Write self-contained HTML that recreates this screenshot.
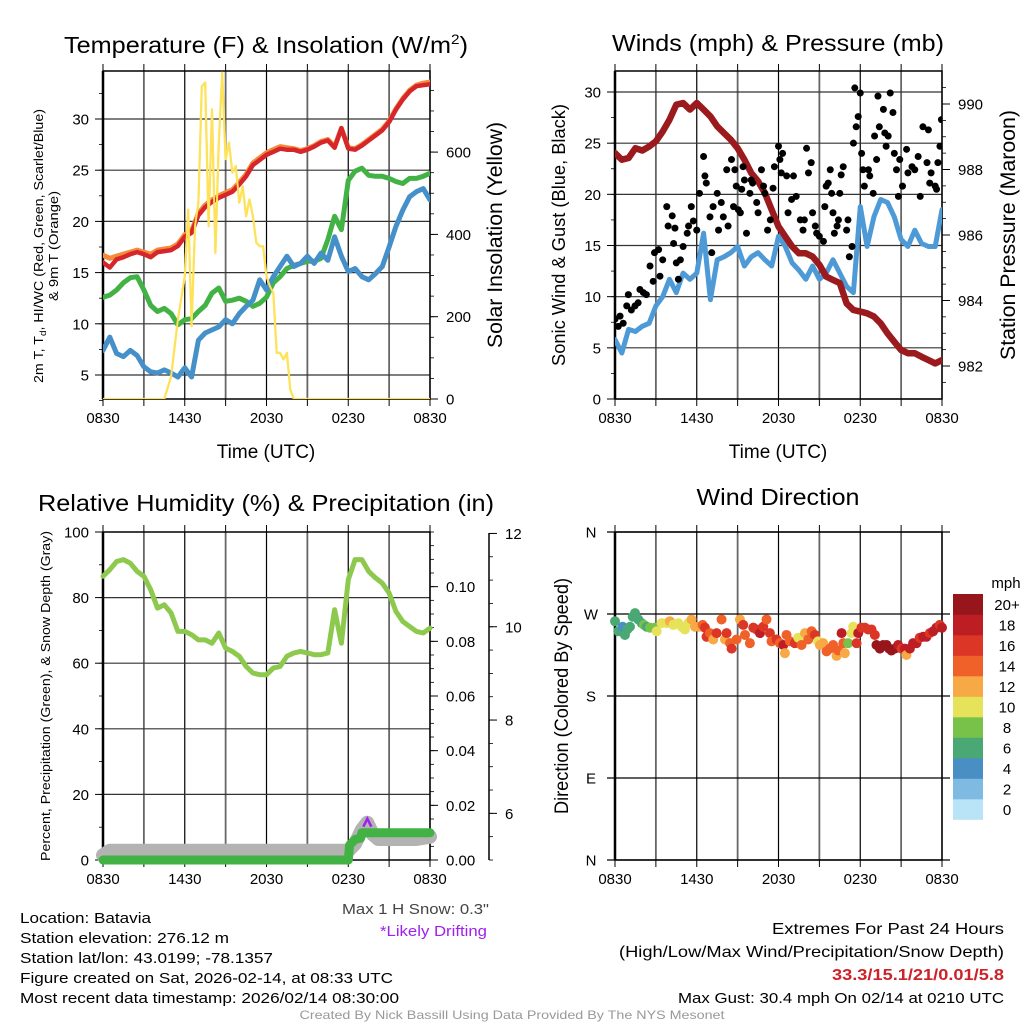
<!DOCTYPE html>
<html><head><meta charset="utf-8">
<style>
html,body{margin:0;padding:0;background:#fff;}
svg{display:block;font-family:"Liberation Sans",Arial,sans-serif;}
</style></head>
<body>
<svg id="fig" xmlns="http://www.w3.org/2000/svg" width="1024" height="1024" viewBox="0 0 1024 1024">
<rect x="0" y="0" width="1024" height="1024" fill="#fff"/>
<!-- titles -->
<text x="266" y="53" font-size="23" text-anchor="middle" textLength="404" lengthAdjust="spacingAndGlyphs">Temperature (F) &amp; Insolation (W/m<tspan dy="-9" font-size="14">2</tspan><tspan dy="9">)</tspan></text>
<text x="778" y="51" font-size="23" text-anchor="middle" textLength="332" lengthAdjust="spacingAndGlyphs">Winds (mph) &amp; Pressure (mb)</text>
<text x="38" y="511" font-size="23" textLength="456" lengthAdjust="spacingAndGlyphs">Relative Humidity (%) &amp; Precipitation (in)</text>
<text x="778" y="505" font-size="23" text-anchor="middle" textLength="163" lengthAdjust="spacingAndGlyphs">Wind Direction</text>
<!-- axis titles -->
<text transform="translate(43,246) rotate(-90)" font-size="13" text-anchor="middle" textLength="274" lengthAdjust="spacingAndGlyphs">2m T, T<tspan dy="3" font-size="9">d</tspan><tspan dy="-3">, HI/WC (Red, Green, Scarlet/Blue)</tspan></text>
<text transform="translate(58,246) rotate(-90)" font-size="13" text-anchor="middle" textLength="110" lengthAdjust="spacingAndGlyphs">&amp; 9m T (Orange)</text>
<text transform="translate(502,235) rotate(-90)" font-size="21" text-anchor="middle" textLength="226" lengthAdjust="spacingAndGlyphs">Solar Insolation (Yellow)</text>
<text transform="translate(565,235) rotate(-90)" font-size="18" text-anchor="middle" textLength="262" lengthAdjust="spacingAndGlyphs">Sonic Wind &amp; Gust (Blue, Black)</text>
<text transform="translate(1015,235) rotate(-90)" font-size="21" text-anchor="middle" textLength="250" lengthAdjust="spacingAndGlyphs">Station Pressure (Maroon)</text>
<text transform="translate(50,696) rotate(-90)" font-size="13" text-anchor="middle" textLength="330" lengthAdjust="spacingAndGlyphs">Percent, Precipitation (Green), &amp; Snow Depth (Gray)</text>
<text transform="translate(568,696) rotate(-90)" font-size="19" text-anchor="middle" textLength="236" lengthAdjust="spacingAndGlyphs">Direction (Colored By Speed)</text>
<text x="266" y="458" font-size="19" text-anchor="middle">Time (UTC)</text>
<text x="778" y="458" font-size="19" text-anchor="middle">Time (UTC)</text>
<!-- footer text -->
<g font-size="15">
<text x="20" y="923" textLength="131" lengthAdjust="spacingAndGlyphs">Location: Batavia</text>
<text x="20" y="943" textLength="209" lengthAdjust="spacingAndGlyphs">Station elevation: 276.12 m</text>
<text x="20" y="963" textLength="253" lengthAdjust="spacingAndGlyphs">Station lat/lon: 43.0199; -78.1357</text>
<text x="20" y="983" textLength="373" lengthAdjust="spacingAndGlyphs">Figure created on Sat, 2026-02-14, at 08:33 UTC</text>
<text x="20" y="1003" textLength="379" lengthAdjust="spacingAndGlyphs">Most recent data timestamp: 2026/02/14 08:30:00</text>
<text x="489" y="914" text-anchor="end" fill="#444" textLength="147" lengthAdjust="spacingAndGlyphs">Max 1 H Snow: 0.3"</text>
<text x="487" y="936" text-anchor="end" fill="#a020f0" textLength="107" lengthAdjust="spacingAndGlyphs">*Likely Drifting</text>
<text x="1004" y="934" font-size="16" text-anchor="end" textLength="232" lengthAdjust="spacingAndGlyphs">Extremes For Past 24 Hours</text>
<text x="1004" y="957" font-size="16" text-anchor="end" textLength="385" lengthAdjust="spacingAndGlyphs">(High/Low/Max Wind/Precipitation/Snow Depth)</text>
<text x="1004" y="980" font-size="16" font-weight="bold" fill="#cc2229" text-anchor="end" textLength="172" lengthAdjust="spacingAndGlyphs">33.3/15.1/21/0.01/5.8</text>
<text x="1004" y="1003" text-anchor="end" textLength="326" lengthAdjust="spacingAndGlyphs">Max Gust: 30.4 mph On 02/14 at 0210 UTC</text>
<text x="512" y="1019" font-size="12" fill="#999" text-anchor="middle" textLength="425" lengthAdjust="spacingAndGlyphs">Created By Nick Bassill Using Data Provided By The NYS Mesonet</text>
</g>
<g id="layer"></g>
</svg>
<script>
// ---------- data ----------
const hoursHalf = [0,0.5,1,1.5,2,2.5,3,3.5,4,4.5,5,5.5,6,6.5,7,7.5,8,8.5,9,9.5,10,10.5,11,11.5,12,12.5,13,13.5,14,14.5,15,15.5,16,16.5,17,17.5,18,18.5,19,19.5,20,20.5,21,21.5,22,22.5,23,23.5,24];
const timeLabels = ["0830","1430","2030","0230","0830"];
const tempRed = [16.0,15.5,16.3,16.5,16.8,17.0,16.8,16.5,17.0,17.1,17.2,17.6,18.5,18.9,20.6,21.4,21.9,22.3,22.6,22.9,23.6,24.4,25.5,26.0,26.5,26.8,27.1,27.0,27.0,26.8,27.0,27.3,27.7,27.9,27.2,29.1,27.1,27.0,27.4,27.9,28.4,28.9,29.7,30.9,31.9,32.7,33.2,33.3,33.4];
const temp9mOrange = [16.7,16.4,16.6,16.8,17.0,17.2,17.0,16.8,17.2,17.3,17.4,17.8,18.7,19.1,20.8,21.6,22.1,22.5,22.8,23.1,23.8,24.6,25.7,26.2,26.7,27.0,27.3,27.2,27.1,26.9,27.1,27.4,27.8,28.0,27.3,29.1,27.2,27.1,27.5,28.0,28.5,29.0,29.8,31.0,32.0,32.8,33.3,33.5,33.6];
const dewGreen = [12.6,12.8,13.3,14.0,14.5,14.6,13.3,11.8,11.2,11.5,11.0,9.9,10.4,10.5,11.2,11.8,13.0,13.5,12.2,12.3,12.5,12.2,11.7,12.0,12.6,14.0,14.6,15.4,15.7,15.9,16.1,16.1,16.4,18.2,20.5,19.2,24.0,24.9,25.2,24.5,24.4,24.4,24.2,23.9,23.7,24.2,24.2,24.4,24.7];
const windChillBlue = [7.4,8.7,7.1,6.8,7.4,6.9,5.8,5.3,5.2,5.5,5.2,4.8,5.7,4.8,8.4,9.1,9.4,9.7,10.4,10.0,11.0,11.7,12.3,14.3,13.3,14.6,15.6,16.6,15.6,15.9,16.6,15.9,16.9,16.2,18.5,16.6,15.1,15.4,14.6,14.3,14.9,15.6,17.5,19.5,21.1,22.4,22.9,23.2,22.1];
const solarHours = [0,4.5,5,5.5,6,6.25,6.5,6.75,7,7.25,7.5,7.75,8,8.25,8.5,8.75,9,9.25,9.5,9.75,10,10.25,10.5,10.75,11,11.25,11.5,11.75,12,12.25,12.5,12.75,13,13.25,13.5,13.75,14,24];
const solarYellow = [0,0,55,193,298,460,177,420,477,760,769,420,704,355,623,793,583,623,550,566,477,517,444,485,444,380,371,371,298,274,258,112,112,96,112,23,0,0];
const windBlue = [5.8,4.5,6.8,6.6,7.1,7.4,9.1,10.0,11.7,10.4,12.3,11.7,12.3,16.2,9.7,13.6,13.9,14.3,14.9,13.0,13.9,14.3,13.6,13.0,15.9,14.9,13.3,12.6,11.7,13.0,11.7,12.3,13.6,12.3,11.0,10.4,18.8,14.9,17.8,19.5,19.2,17.8,15.6,14.9,16.5,15.2,14.9,14.9,18.5];
const pressureMaroon = [988.50,988.30,988.35,988.65,988.58,988.70,988.86,989.16,989.52,989.98,990.03,989.83,990.03,989.83,989.62,989.32,989.11,988.91,988.65,988.30,987.89,987.64,987.28,986.77,986.26,985.95,985.65,985.44,985.44,985.34,985.09,984.73,984.63,984.53,983.91,983.71,983.66,983.61,983.51,983.30,983.00,982.74,982.49,982.39,982.39,982.28,982.18,982.08,982.18];
const gustHours = [0,0.24,0.37,0.6,0.86,0.98,1.2,1.47,1.7,1.83,2.08,2.3,2.57,2.8,2.9,3.2,3.3,3.5,3.8,3.9,4.2,4.3,4.4,4.5,4.65,4.8,5.0,5.3,5.4,5.6,5.75,6.0,6.2,6.5,6.6,6.7,6.97,7.1,7.2,7.5,7.6,7.8,7.95,8.2,8.3,8.55,8.7,8.8,8.9,9.05,9.2,9.3,9.4,9.5,9.65,9.9,10.0,10.1,10.4,10.5,10.75,10.9,11.0,11.2,11.4,11.6,11.7,12.0,12.1,12.2,12.3,12.6,12.7,12.96,13.1,13.3,13.6,13.8,13.9,14.06,14.2,14.4,14.5,14.7,14.8,15.0,15.3,15.4,15.5,15.65,15.8,15.9,16.0,16.1,16.3,16.4,16.5,16.6,16.75,17.0,17.1,17.2,17.4,17.5,17.6,17.7,17.85,18.0,18.1,18.2,18.3,18.6,18.7,18.95,19.05,19.2,19.3,19.4,19.7,19.8,19.9,20.05,20.2,20.4,20.5,20.66,20.8,20.9,21.1,21.4,21.5,21.8,22.0,22.25,22.4,22.6,22.9,23.0,23.1,23.2,23.5,23.6,23.7,23.85,23.96];
const gustBlack = [7.8,7.1,8.1,7.4,9.1,10.2,8.7,9.1,9.4,10.7,10.4,10.2,13.0,11.5,14.3,14.6,12.0,13.6,18.8,16.9,17.9,15.2,16.7,13.3,11.7,13.6,14.9,16.2,16.9,18.8,17.4,16.5,20.1,23.7,21.8,21.1,17.8,14.3,18.8,20.1,16.5,19.2,17.8,22.4,16.9,23.4,18.8,22.4,20.8,18.5,18.2,20.5,22.7,21.4,16.2,20.1,21.4,21.1,19.2,18.2,22.4,20.8,20.1,16.5,17.5,20.6,22.7,24.7,23.4,22.1,24.0,21.8,18.2,19.5,21.8,19.8,17.5,16.5,17.5,24.5,22.1,23.1,18.2,16.9,16.2,15.9,15.4,18.8,20.8,21.1,22.4,20.1,18.2,16.2,16.9,17.5,20.1,21.9,22.7,16.5,17.5,13.9,14.9,25.0,30.4,26.6,27.6,29.9,24.0,22.4,20.8,22.4,21.8,20.1,25.7,23.4,29.6,26.6,28.3,26.0,24.7,25.7,29.9,28.0,24.0,22.4,19.8,23.4,20.8,24.4,22.1,22.7,22.4,23.7,19.8,26.6,23.1,26.3,21.1,22.1,20.8,20.5,23.1,24.7,27.3];
const rhGreen = [86.5,88.5,91.0,91.6,90.5,88.0,86.5,82.4,76.8,77.8,75.3,69.7,69.7,68.7,67.1,67.1,66.1,69.2,64.6,63.6,62.1,59.0,57.0,56.5,56.5,58.5,59.0,62.1,63.1,63.6,63.1,62.6,62.6,63.1,76.3,66.1,85.5,91.6,91.6,88.0,86.0,84.4,81.4,75.8,72.7,71.2,69.7,69.2,70.7];
const precipHours = [0,18.0,18.1,18.5,18.9,19.0,24];
const precipIn = [0,0,0.0055,0.0075,0.008,0.01,0.01];
const snowHours = [0,0.5,18.0,18.5,19.0,19.4,19.8,20.2,21,22,23,24];
const snowDepth = [5.1,5.2,5.2,5.35,5.65,5.8,5.55,5.45,5.45,5.45,5.45,5.5];
const driftHours = [19.4];
const driftDepth = [5.8];
const dirHours = [0,0.24,0.56,0.73,0.9,1.1,1.3,1.47,1.71,1.96,2.13,2.32,2.57,2.93,3.06,3.42,3.79,4.03,4.28,4.65,4.89,5.13,5.38,5.62,5.87,6.19,6.43,6.6,6.72,6.97,7.21,7.46,7.82,8.07,8.19,8.44,8.56,8.92,9.17,9.41,9.54,9.9,10.15,10.39,10.64,10.88,11.12,11.37,11.49,11.86,12.1,12.35,12.47,12.59,12.84,13.2,13.45,13.69,13.94,14.18,14.43,14.67,14.91,15.04,15.28,15.53,15.77,16.01,16.26,16.38,16.63,16.75,16.87,17.11,17.36,17.48,17.73,17.85,18.09,18.34,18.58,18.83,19.07,19.19,19.44,19.68,19.93,20.12,20.29,20.54,20.78,21.03,21.27,21.39,21.64,21.88,22.13,22.37,22.62,22.86,23.1,23.35,23.59,23.84,24.0];
const dirDeg = [262,251,256,247,253,256,267,271,264,260,258,256,255,255,251,260,260,262,258,260,256,253,260,264,256,256,258,255,245,249,242,249,264,242,249,238,232,242,264,258,247,238,255,253,249,256,264,249,240,242,238,236,227,247,240,238,244,236,249,242,251,247,240,236,238,229,232,236,224,230,249,238,227,238,249,256,238,249,255,255,253,253,247,236,232,236,236,232,230,232,236,232,232,225,232,238,238,244,245,245,249,251,255,258,255];
const dirSpeed = [6,6,4,6,6,6,6,6,6,6,8,6,8,8,10,10,10,12,10,10,10,10,10,12,12,12,14,16,16,14,12,16,14,12,16,14,16,14,12,16,14,14,16,16,18,16,14,16,14,16,14,18,12,14,14,16,10,14,12,14,14,16,10,12,12,14,14,14,12,14,18,14,12,8,10,10,16,18,16,16,16,16,16,20,20,20,20,20,20,20,18,16,18,12,18,18,18,16,18,18,16,18,18,16,18];
const speedBinLabels = ["0","2","4","6","8","10","12","14","16","18","20+"];
const speedBinColors = ["#b9e3f7","#7fbae3","#4a8fc4","#4aa874","#79c24a","#e6e25a","#f6a945","#ef6128","#dc3626","#bd1e24","#96161b"];
const tempTicks = [5,10,15,20,25,30];
const solarTicks = [0,200,400,600];
const windTicks = [0,5,10,15,20,25,30];
const pressTicks = [982,984,986,988,990];
const rhTicks = [0,20,40,60,80,100];
const precipTicks = [0,0.02,0.04,0.06,0.08,0.10];
const snowTicks = [6,8,10,12];
const dirLabels = ["N","E","S","W","N"];
const dirTicks = [0,90,180,270,360];

// ---------- helpers ----------
const NS = "http://www.w3.org/2000/svg";
const layer = document.getElementById('layer');
function el(tag, parent){ const e = document.createElementNS(NS, tag); (parent||layer).appendChild(e); return e; }
function line(x1,y1,x2,y2,stroke,w,parent){ const e=el('line',parent); e.setAttribute('x1',x1); e.setAttribute('y1',y1); e.setAttribute('x2',x2); e.setAttribute('y2',y2); e.setAttribute('stroke',stroke); e.setAttribute('stroke-width',w); return e; }
function txt(x,y,s,size,anchor,parent){ const e=el('text',parent); e.setAttribute('x',x); e.setAttribute('y',y); e.setAttribute('font-size',size); e.setAttribute('text-anchor',anchor); e.textContent=s; return e; }
function pts(xs,ys,fx,fy){ return xs.map((t,i)=>fx(t).toFixed(1)+','+fy(ys[i]).toFixed(1)).join(' '); }
function poly(points,stroke,w,parent){ const e=el('polyline',parent); e.setAttribute('points',points); e.setAttribute('fill','none'); e.setAttribute('stroke',stroke); e.setAttribute('stroke-width',w); e.setAttribute('stroke-linejoin','round'); e.setAttribute('stroke-linecap','round'); return e; }

function panelFrame(name, x0, x1, y0, y1, hGridVals, fy){
  const g = el('g');
  
  
  const fx = t => x0 + t/24*(x1-x0);
  for(let k=0;k<=8;k++){
    const x = fx(k*3);
    const gl = line(x,y0,x,y1,k%2===0?'#000':'#666',k%2===0?1.2:1.8,g);
    
    
    const tk = line(x,y0-7,x,y0,'#000',1,g);
    
    
    const tb = line(x,y1,x,y1+7,'#000',1,g);
    
    
  }
  hGridVals.forEach(v=>{
    const y = fy(v);
    const h = line(x0,y,x1,y,'#333',1.2,g);
    
    
  });
  timeLabels.forEach((s,i)=>{
    const t = txt(fx(i*6), y1+24, s, 15, 'middle', g);
    
    
  });
  const fr = el('rect', g);
  fr.setAttribute('x',x0); fr.setAttribute('y',y0); fr.setAttribute('width',x1-x0); fr.setAttribute('height',y1-y0);
  fr.setAttribute('fill','none'); fr.setAttribute('stroke','#000'); fr.setAttribute('stroke-width',1.5);
  
  
  const lb = line(x0,y0,x0,y1,'#000',2.5,g);
  
  
  return {g, fx};
}
function yAxis(g, ticks, fy, xAxis, side, labelFmt, minorStep, lo, hi, name){
  const dir = side==='left'?-1:1;
  ticks.forEach(v=>{
    const y=fy(v);
    const t=line(xAxis,y,xAxis+dir*8,y,'#000',1,g);
    
    
    const l=txt(xAxis+dir*(side==='left'?14:16), y+5.5, labelFmt(v), 15, side==='left'?'end':'start', g);
    
    
  });
  if(minorStep){
    for(let v=lo; v<=hi+1e-9; v+=minorStep){
      const y=fy(v);
      const m=line(xAxis,y,xAxis+dir*4,y,'#000',0.8,g);
      
      
    }
  }
}

// ---------- Panel 1: temperature ----------
{
  const x0=103,x1=430,y0=71,y1=399;
  const fyT = v => 375-(v-5)*10.24;
  const fyS = w => 399-w*0.4115;
  const P = panelFrame('temperature-panel',x0,x1,y0,y1,tempTicks,fyT);
  yAxis(P.g,tempTicks,fyT,x0,'left',v=>String(v),2.5,2.5,32.5,'temperature-y');
  yAxis(P.g,solarTicks,fyS,x1,'right',v=>String(v),50,0,750,'solar-y');
  const clip = el('clipPath'); clip.setAttribute('id','c1');
  const cr = el('rect',clip); cr.setAttribute('x',x0); cr.setAttribute('y',y0); cr.setAttribute('width',x1-x0); cr.setAttribute('height',y1-y0);
  const sg = el('g'); sg.setAttribute('clip-path','url(#c1)');
  
  
  const so = poly(pts(solarHours,solarYellow,P.fx,fyS),'#fde25a',2.2,sg);
  
  
  const dg = poly(pts(hoursHalf,dewGreen,P.fx,fyT),'#43b245',5,sg);
  
  
  const bl = poly(pts(hoursHalf,windChillBlue,P.fx,fyT),'#4590c8',5,sg);
  
  
  const or = poly(pts(hoursHalf,temp9mOrange,P.fx,fyT),'#f58a3a',5,sg);
  
  
  const rd = poly(pts(hoursHalf,tempRed,P.fx,fyT),'#d7262b',4.5,sg);
  
  
  const soTop = poly(pts(solarHours,solarYellow,P.fx,fyS),'#fde25a',2,sg);
  
  
}

// ---------- Panel 2: winds ----------
{
  const x0=615,x1=942,y0=71,y1=399;
  const fyW = v => 399-v*10.233;
  const fyP = p => 104+(990-p)*32.75;
  const P = panelFrame('winds-panel',x0,x1,y0,y1,windTicks,fyW);
  yAxis(P.g,windTicks,fyW,x0,'left',v=>String(v),2.5,0,30,'wind-y');
  yAxis(P.g,pressTicks,fyP,x1,'right',v=>String(v),0.5,981.5,990.5,'pressure-y');
  const clip = el('clipPath'); clip.setAttribute('id','c2');
  const cr = el('rect',clip); cr.setAttribute('x',x0); cr.setAttribute('y',y0); cr.setAttribute('width',x1-x0); cr.setAttribute('height',y1-y0);
  const sg = el('g'); sg.setAttribute('clip-path','url(#c2)');
  
  
  const wb = poly(pts(hoursHalf,windBlue,P.fx,fyW),'#4e9ad6',5,sg);
  
  
  const pm = poly(pts(hoursHalf,pressureMaroon,P.fx,fyP),'#9b1a1e',6.5,sg);
  
  
  gustHours.forEach((t,i)=>{
    const c = el('circle',sg);
    c.setAttribute('cx',P.fx(t)); c.setAttribute('cy',fyW(gustBlack[i])); c.setAttribute('r',3.5); c.setAttribute('fill','#000');
    
    
  });
}

// ---------- Panel 3: humidity ----------
{
  const x0=103,x1=430,y0=532,y1=860;
  const fyR = v => 860-v*3.28;
  const fyPr = p => 860-p/0.12*328;
  const fyS = s => 860-(s-5)*46.65;
  const P = panelFrame('humidity-panel',x0,x1,y0,y1,[20,40,60,80],fyR);
  yAxis(P.g,rhTicks,fyR,x0,'left',v=>String(v),10,0,100,'humidity-y');
  yAxis(P.g,precipTicks,fyPr,x1,'right',v=>v.toFixed(2),0.005,0,0.12,'precip-y');
  const ax = line(489,533,489,860,'#000',1.5,P.g);
  
  
  yAxis(P.g,snowTicks,fyS,489,'right',v=>String(v),0.5,5,12,'snow-y');
  const sg = el('g');
  
  
  const sn = poly(pts(snowHours,snowDepth,P.fx,fyS),'#b3b3b3',14,sg);
  
  
  driftHours.forEach((t,i)=>{
    const x=P.fx(t), y=fyS(driftDepth[i]);
    const tr = el('path',sg);
    tr.setAttribute('d',`M${x-4},${y+4} L${x},${y-4} L${x+4},${y+4}`);
    tr.setAttribute('fill','none'); tr.setAttribute('stroke','#a020f0'); tr.setAttribute('stroke-width',2.5);
    
    
  });
  const pr = poly(pts(precipHours,precipIn,P.fx,fyPr),'#43b245',9,sg);
  
  
  const rh = poly(pts(hoursHalf,rhGreen,P.fx,fyR),'#8cc94d',5,sg);
  
  
}

// ---------- Panel 4: wind direction ----------
{
  const x0=615,x1=942,y0=532,y1=860;
  const fyD = d => 860-d/360*328;
  const P = panelFrame('wind-direction-panel',x0,x1,y0,y1,[],fyD);
  dirTicks.forEach((d,i)=>{
    const y=fyD(d);
    const h=line(607,y,950,y,'#000',1.2,P.g);
    
    
    const l=txt(591,y+5.5,dirLabels[i],15,'middle',P.g);
    
    
  });
  const sg = el('g');
  
  
  dirHours.forEach((t,i)=>{
    const bin = Math.min(10, Math.floor(dirSpeed[i]/2));
    const c = el('circle',sg);
    c.setAttribute('cx',P.fx(t)); c.setAttribute('cy',fyD(dirDeg[i])); c.setAttribute('r',5);
    c.setAttribute('fill',speedBinColors[bin]);
    
    
  });
  // colorbar
  const cb = el('g');
  
  
  const ut = txt(1006,588,'mph',15,'middle',cb);
  
  
  const segH = 20.5, top = 594;
  speedBinColors.forEach((col,i)=>{
    const k = 10-i;
    const r = el('rect',cb);
    r.setAttribute('x',953); r.setAttribute('y',top+k*segH); r.setAttribute('width',30); r.setAttribute('height',segH+0.3);
    r.setAttribute('fill',col);
    
    
    const l = txt(1007, top+k*segH+segH/2+5.5, speedBinLabels[i], 15, 'middle', cb);
    
    
  });
}
</script>
</body></html>
